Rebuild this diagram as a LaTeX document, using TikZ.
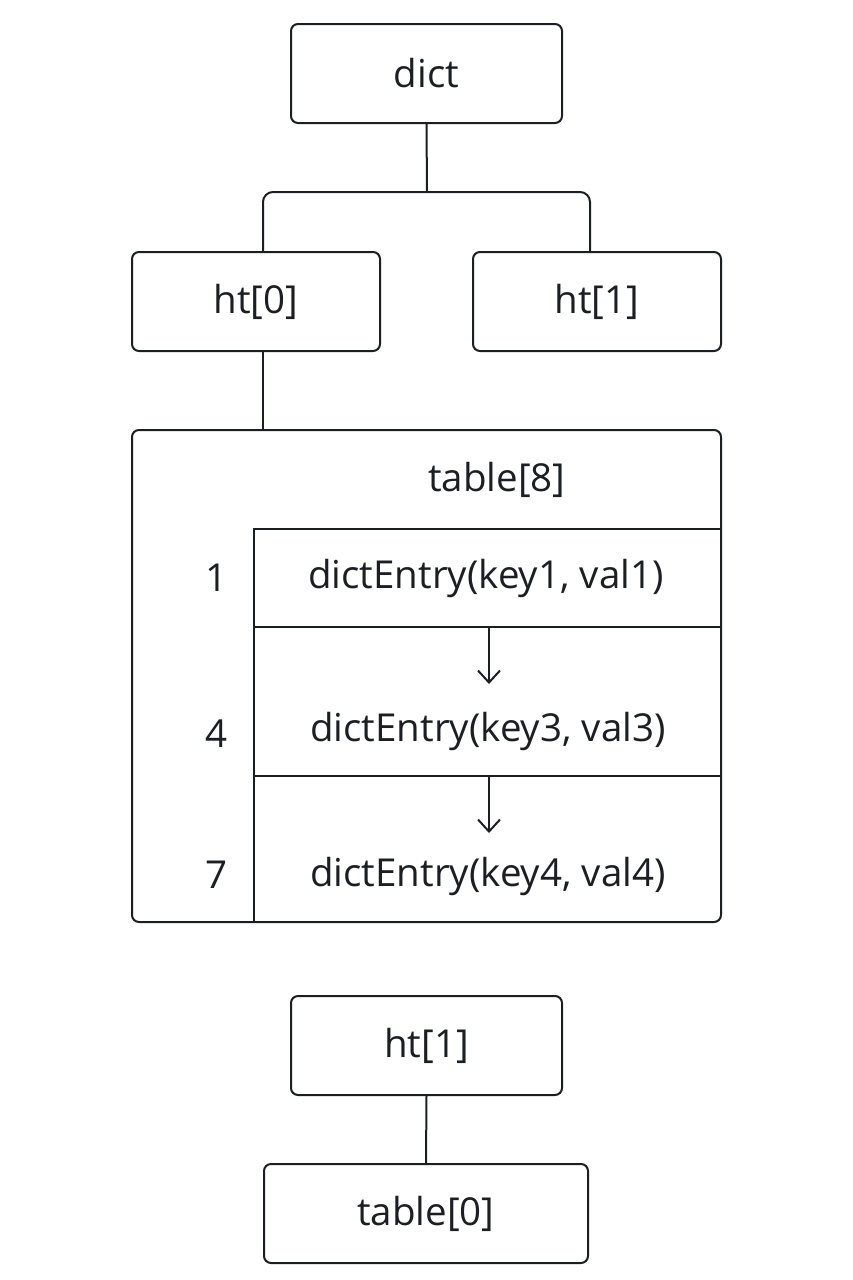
\documentclass[tikz,border=0pt]{standalone}
\usepackage{fontspec}
\setmainfont{Open Sans}
\usetikzlibrary{arrows.meta}
\definecolor{ink}{HTML}{1B1F23}
\tikzset{
  box/.style={draw=ink, line width=2pt, rounded corners=7pt, text=ink, font=\fontsize{38.5}{46}\selectfont, inner sep=0pt},
  cell/.style={inner sep=0pt},
  lbl/.style={text=ink, font=\fontsize{38.5}{46}\selectfont, inner sep=0pt},
  link/.style={draw=ink, line width=2pt},
  arr/.style={draw=ink, line width=2pt, -{Straight Barb[length=12pt,width=22pt,line width=2pt]}}
}
\begin{document}
\begin{tikzpicture}[x=1pt,y=-1pt]
\useasboundingbox (0,0) rectangle (853,1280);
% top boxes
\node[box, minimum width=271pt, minimum height=99pt] (dict) at (426.5,73.5) {dict};
\node[box, minimum width=248pt, minimum height=99pt] (ht0) at (256,301.5) {ht[0]};
\node[box, minimum width=248pt, minimum height=99pt] (ht1) at (597,301.5) {ht[1]};
% bus
\coordinate (bus) at (427,192);
\coordinate (jl) at (263,252);
\coordinate (jr) at (590,252);
\draw[link] (dict.south) -- (bus);
\draw[link, rounded corners=10pt] (jl) -- (jl |- bus) -- (jr |- bus) -- (jr);
% big table
\node[box, minimum width=589pt, minimum height=492pt] (tbl) at (426.5,676) {};
\coordinate (tl) at (263,351);
\draw[link] (tl) -- (tl |- tbl.north);
\node[lbl] (tname) at (497,480) {table[8]};
% rows
\node[cell, minimum width=467pt, minimum height=98pt] (r1) at (487.5,578) {};
\node[cell, minimum width=467pt, minimum height=149pt] (r2) at (487.5,701.5) {};
\node[cell, minimum width=467pt, minimum height=146pt] (r3) at (487.5,849) {};
\draw[link] (r1.north east) -- (r1.north west) -- (r1.north west |- tbl.south);
\draw[link] (r2.north west) -- (r2.north east);
\draw[link] (r3.north west) -- (r3.north east);
\node[lbl] (e1) at (486,578) {dictEntry(key1, val1)};
\node[lbl] (e2) at (488,731) {dictEntry(key3, val3)};
\node[lbl] (e3) at (488,876) {dictEntry(key4, val4)};
\node[lbl] (i1) at (217,578) {1};
\node[lbl] (i2) at (217,734) {4};
\node[lbl] (i3) at (217,875) {7};
% arrows
\coordinate (a1) at (489,684);
\coordinate (a2) at (489,833);
\draw[arr] (a1 |- r1.south) -- (a1);
\draw[arr] (a2 |- r2.south) -- (a2);
% bottom
\node[box, minimum width=271pt, minimum height=99pt] (hb) at (426.5,1045.5) {ht[1]};
\node[box, minimum width=324pt, minimum height=99pt] (t0) at (426,1213.5) {table[0]};
\draw[link] (hb.south) -- (t0.north);
\end{tikzpicture}
\end{document}
